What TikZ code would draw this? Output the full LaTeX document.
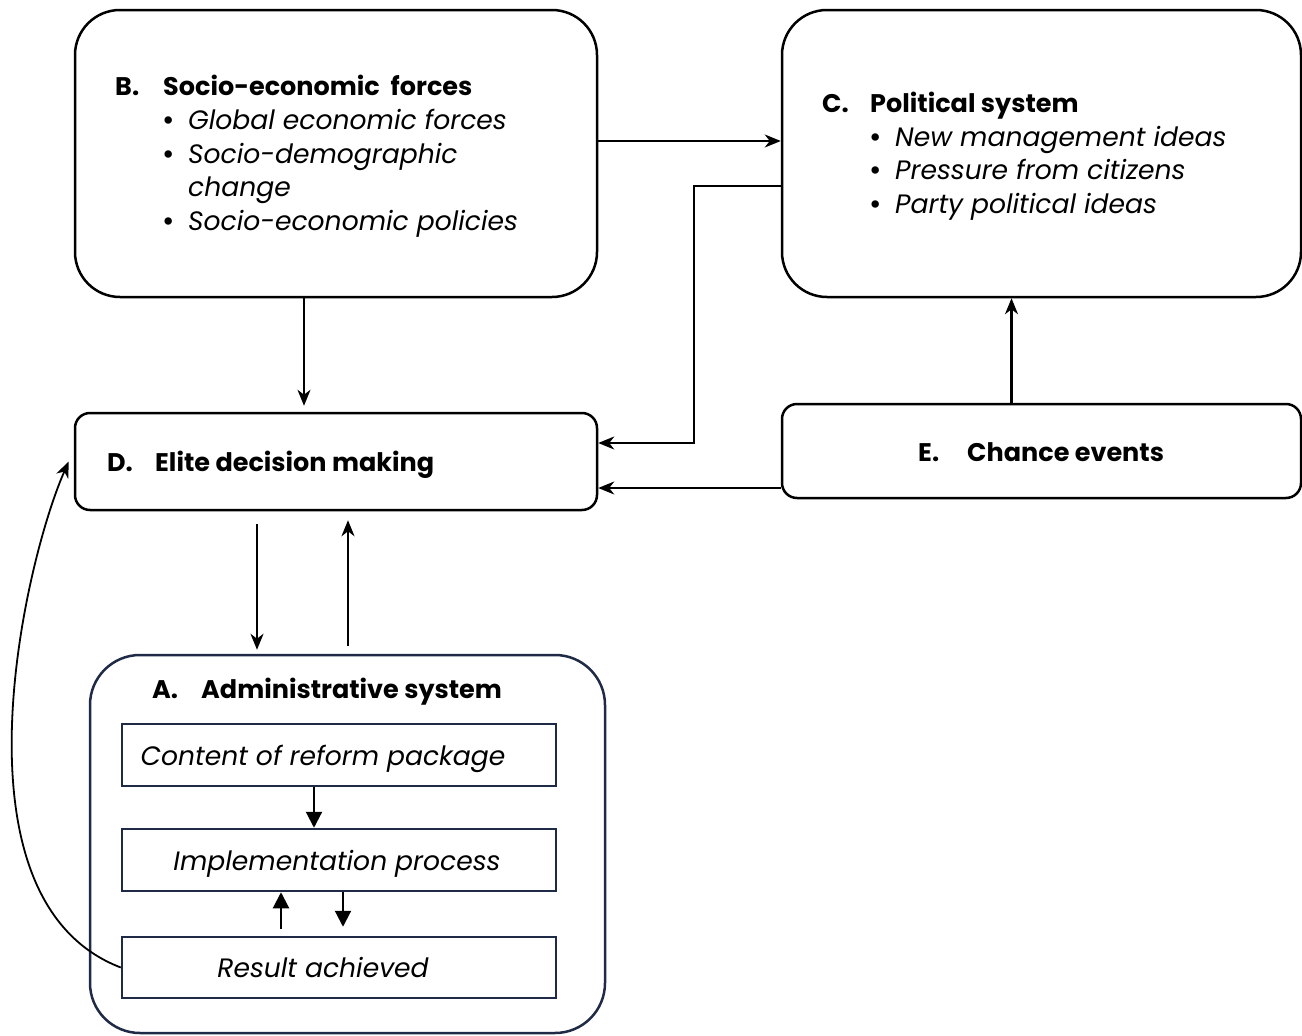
\documentclass[tikz,border=0pt]{standalone}
\usepackage{fontspec}
\setmainfont{Poppins}
\usetikzlibrary{arrows.meta,calc}
\definecolor{navy}{RGB}{31,42,70}
\tikzset{
  rbox/.style={draw=black,line width=2.5pt,rounded corners=#1,minimum width=0pt,inner sep=0pt},
  ibox/.style={draw=navy,line width=2.5pt,inner sep=0pt},
  txt/.style={anchor=base west,inner sep=0pt,font=\fontsize{25.5}{30}\selectfont},
  bul/.style={anchor=base west,inner sep=0pt,font=\fontsize{30}{30}\selectfont},
  btxt/.style={txt,font=\fontsize{25.5}{30}\selectfont\bfseries},
  itxt/.style={txt,font=\fontsize{26.6}{30}\selectfont\itshape},
  arr/.style={line width=2.1pt,-{Stealth[length=16pt,width=13pt,inset=5pt]}},
  tarr/.style={line width=2.1pt,-{Triangle[length=16pt,width=16pt]}}
}
\begin{document}
\begin{tikzpicture}[x=1pt,y=-1pt]
\useasboundingbox (0,0) rectangle (1302,1036);
% boxes
\node[rbox=45pt,minimum width=522pt,minimum height=287pt] (B) at (336,153.5) {};
\node[rbox=45pt,minimum width=519pt,minimum height=287pt] (C) at (1041.5,153.5) {};
\node[rbox=15pt,minimum width=522pt,minimum height=97pt] (D) at (336,461.5) {};
\node[rbox=15pt,minimum width=519pt,minimum height=94pt] (E) at (1041.5,451) {};
\node[rbox=50pt,draw=navy,minimum width=515pt,minimum height=378pt] (A) at (347.5,844) {};
\node[ibox,minimum width=434pt,minimum height=62pt] (A1) at (339,755) {};
\node[ibox,minimum width=434pt,minimum height=62pt] (A2) at (339,860) {};
\node[ibox,minimum width=434pt,minimum height=61pt] (A3) at (339,967.5) {};
% texts B
\node[btxt] (Bl) at (115,95) {B.};
\node[btxt] (Bt) at (163,95) {Socio-economic\ \ forces};
\node[bul] (Bb1) at (162,130) {•};
\node[itxt] (Bi1) at (188,129) {Global economic forces};
\node[bul] (Bb2) at (162,164) {•};
\node[itxt] (Bi2) at (188,163) {Socio-demographic};
\node[itxt] (Bi2b) at (188,196) {change};
\node[bul] (Bb3) at (162,231) {•};
\node[itxt] (Bi3) at (188,230) {Socio-economic policies};
% texts C
\node[btxt] (Cl) at (822,112) {C.};
\node[btxt] (Ct) at (870,112) {Political system};
\node[bul] (Cb1) at (869,147) {•};
\node[itxt] (Ci1) at (895,146) {New management ideas};
\node[bul] (Cb2) at (869,180) {•};
\node[itxt] (Ci2) at (895,179) {Pressure from citizens};
\node[bul] (Cb3) at (869,214) {•};
\node[itxt] (Ci3) at (895,213) {Party political ideas};
% D, E, A
\node[btxt] (Dl) at (107,471) {D.};
\node[btxt] (Dt) at (155,471) {Elite decision making};
\node[btxt] (El) at (918,461) {E.};
\node[btxt] (Et) at (967,461) {Chance events};
\node[btxt] (Al) at (152,698) {A.};
\node[btxt] (At) at (201,698) {Administrative system};
\node[itxt,anchor=base] (A1t) at (323,765) {Content of reform package};
\node[itxt,anchor=base] (A2t) at (337,870) {Implementation process};
\node[itxt,anchor=base] (A3t) at (323,977) {Result achieved};
% connectors
\draw[arr] ([yshift=12.5pt]B.east) -- ([yshift=12.5pt]B.east -| C.west);
\coordinate (cd) at (694,443);
\draw[arr] ([yshift=-32.5pt]C.west) -| (cd) -- (cd -| D.east);
\draw[arr] ([yshift=-37pt]E.west) -- ([yshift=-37pt]E.west -| D.east);
\draw[arr] ([xshift=-30pt]E.north) -- ([xshift=-30pt]E.north |- C.south);
\draw[arr,shorten >=6pt] ([xshift=-32pt]B.south) -- ([xshift=-32pt]B.south |- D.north);
\draw[arr,shorten <=13pt,shorten >=4pt] ([xshift=-79pt]D.south) -- ([xshift=-79pt]D.south |- A.north);
\draw[arr,shorten <=8pt,shorten >=9pt] ([xshift=0.5pt]A.north) -- ([xshift=0.5pt]A.north |- D.south);
\draw[tarr] ([xshift=-25pt]A1.south) -- ([xshift=-25pt]A1.south |- A2.north);
\draw[tarr,shorten <=7pt] ([xshift=-58pt]A3.north) -- ([xshift=-58pt]A3.north |- A2.south);
\draw[tarr,shorten >=9pt] ([xshift=4pt]A2.south) -- ([xshift=4pt]A2.south |- A3.north);
\draw[arr,line width=1.8pt] (A3.west) .. controls (-55,900) and (25,560) .. ([xshift=-5pt]D.west);
\end{tikzpicture}
\end{document}
